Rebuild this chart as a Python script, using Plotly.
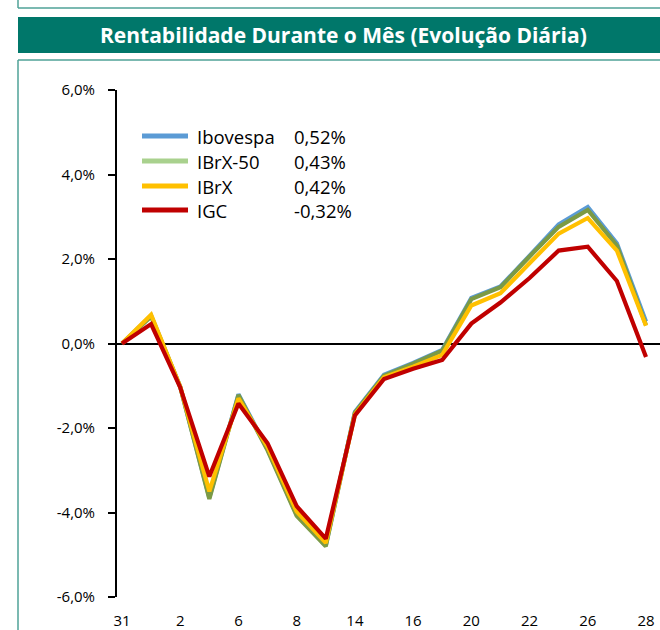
import plotly.graph_objects as go

# ---- data (daily cumulative return, %) ----
dates = ["31", "1", "2", "5", "6", "7", "8", "9", "14", "15", "16",
         "19", "20", "21", "22", "23", "26", "27", "28"]
ibovespa = [0.0, 0.66, -1.02, -3.65, -1.20, -2.50, -4.05, -4.78, -1.62, -0.74, -0.46,
            -0.15, 1.08, 1.35, 2.08, 2.82, 3.23, 2.37, 0.52]
ibrx50 = [0.0, 0.64, -1.03, -3.68, -1.22, -2.53, -4.08, -4.80, -1.64, -0.76, -0.48,
          -0.17, 1.05, 1.33, 2.06, 2.76, 3.16, 2.32, 0.43]
ibrx = [0.0, 0.68, -1.02, -3.50, -1.30, -2.45, -3.98, -4.72, -1.68, -0.80, -0.55,
        -0.27, 0.90, 1.19, 1.90, 2.60, 2.97, 2.20, 0.42]
igc = [0.0, 0.46, -1.04, -3.15, -1.42, -2.36, -3.85, -4.62, -1.70, -0.84, -0.60,
       -0.39, 0.47, 0.97, 1.55, 2.20, 2.29, 1.48, -0.32]

series_names = ["Ibovespa", "IBrX-50", "IBrX", "IGC"]
series_values = [ibovespa, ibrx50, ibrx, igc]
line_colors = ["#5B9BD5", "#7B9A45", "#FFC000", "#C00000"]
legend_colors = ["#5B9BD5", "#A9D18E", "#FFC000", "#C00000"]

title_text = "Rentabilidade Durante o Mês (Evolução Diária)"
y_ticks = [-6, -4, -2, 0, 2, 4, 6]
y_tick_labels = [f"{v:.1f}".replace(".", ",") + "%" for v in y_ticks]

# ---- layout geometry (pixels) ----
W, H = 660, 630
L, R, T, B = 117, 660, 90, 597
n = len(dates)
x_first_px, x_last_px = 122, 646
scale = (x_last_px - x_first_px) / (n - 1)
x_range = [-(x_first_px - L) / scale, (n - 1) + (R - x_last_px) / scale]


def px(x):
    return (x - L) / (R - L)


def py(y):
    return (B - y) / (B - T)


fig = go.Figure()
xs = list(range(n))
for name, vals, col in zip(series_names, series_values, line_colors):
    fig.add_trace(go.Scatter(x=xs, y=vals, mode="lines", name=name,
                             line=dict(color=col, width=4.2), showlegend=False))

shapes = []
annotations = []

frame_col = "#4FA297"
# remnant of the chart frame above
shapes.append(dict(type="line", xref="paper", yref="paper",
                   x0=px(18), x1=px(18), y0=py(0), y1=py(8),
                   line=dict(color=frame_col, width=1.5)))
shapes.append(dict(type="line", xref="paper", yref="paper",
                   x0=px(18), x1=px(660), y0=py(8), y1=py(8),
                   line=dict(color=frame_col, width=1.5)))
# title bar
shapes.append(dict(type="rect", xref="paper", yref="paper",
                   x0=px(18), x1=px(660), y0=py(53), y1=py(17),
                   fillcolor="#00776A", line=dict(width=0), layer="below"))
annotations.append(dict(xref="paper", yref="paper", x=px(343), y=py(35),
                        text="<b>" + title_text + "</b>", showarrow=False,
                        xanchor="center", yanchor="middle",
                        font=dict(family="Open Sans", size=21, color="white")))
# chart frame
shapes.append(dict(type="line", xref="paper", yref="paper",
                   x0=px(18), x1=px(18), y0=py(60), y1=py(630),
                   line=dict(color=frame_col, width=1.5)))
shapes.append(dict(type="line", xref="paper", yref="paper",
                   x0=px(18), x1=px(660), y0=py(60), y1=py(60),
                   line=dict(color=frame_col, width=1.5)))

# custom legend (name + final value)
row_y = [136, 161, 186, 210]
for name, vals, col, ry in zip(series_names, series_values, legend_colors, row_y):
    shapes.append(dict(type="line", xref="paper", yref="paper",
                       x0=px(142), x1=px(188), y0=py(ry), y1=py(ry),
                       line=dict(color=col, width=5)))
    annotations.append(dict(xref="paper", yref="paper", x=px(195), y=py(ry),
                            text=name, showarrow=False, xanchor="left", yanchor="middle",
                            font=dict(family="Open Sans", size=18.5, color="#000")))
    val_txt = f"{vals[-1]:.2f}".replace(".", ",") + "%"
    annotations.append(dict(xref="paper", yref="paper", x=px(292), y=py(ry),
                            text=val_txt, showarrow=False, xanchor="left", yanchor="middle",
                            font=dict(family="Open Sans", size=18.5, color="#000")))

fig.update_layout(
    width=W, height=H,
    margin=dict(l=L, r=W - R, t=T, b=H - B, pad=0),
    paper_bgcolor="white", plot_bgcolor="white",
    showlegend=False,
    shapes=shapes, annotations=annotations,
    font=dict(family="Open Sans", size=15, color="#000"),
)
fig.update_xaxes(range=x_range, showgrid=False, zeroline=False, showline=False,
                 tickvals=xs[::2], ticktext=dates[::2],
                 ticks="outside", ticklen=10, tickcolor="rgba(0,0,0,0)",
                 tickfont=dict(family="Open Sans", size=15, color="#000"))
fig.update_yaxes(range=[-6, 6], showgrid=False, tickvals=y_ticks,
                 ticktext=y_tick_labels,
                 showline=True, linecolor="#000", linewidth=2,
                 ticks="outside", ticklen=7, tickwidth=2, tickcolor="#000",
                 ticklabelstandoff=10,
                 zeroline=True, zerolinecolor="#000", zerolinewidth=2,
                 tickfont=dict(family="Open Sans", size=15, color="#000"))

fig.write_html("out.html",
               config={"displayModeBar": False},
               post_script="document.body.style.margin='0';"
                           "document.body.style.overflow='hidden';")
